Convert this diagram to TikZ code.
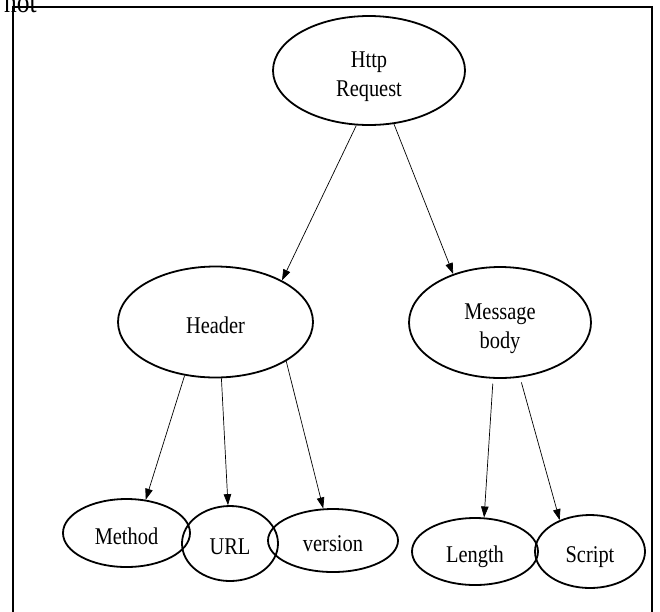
\documentclass[tikz,border=0pt]{standalone}
\usepackage{fontspec}
\setmainfont{Liberation Serif}[FakeStretch=0.85]
\usetikzlibrary{shapes, arrows.meta, positioning}
\newcommand{\lift}{\rule{0pt}{28pt}}

\begin{document}
\begin{tikzpicture}[x=1pt, y=-1pt,
  part/.style={draw, ellipse, line width=1.8pt, inner sep=0pt, align=center, font=\fontsize{24}{29}\selectfont},
  single/.style={part, text height=22pt, text depth=0pt},
  link/.style={-{Triangle[length=11pt, width=7.5pt]}, line width=0.7pt}]
  \useasboundingbox (0,0) rectangle (660,611);
  \node[anchor=base west, inner sep=0pt, font=\fontsize{30}{30}\selectfont] (cut) at (4,12.5) {not};
  \draw[line width=1.8pt] (13,7) rectangle (652,700);

  \node[part, minimum width=192pt, minimum height=109pt] (req) at (369,70.5) {\lift Http\\Request};
  \node[single, minimum width=195pt, minimum height=111pt] (hdr) at (215.5,322) {Header};
  \node[part, minimum width=182pt, minimum height=111pt] (msg) at (500,322.5) {\lift Message\\body};
  \node[single, minimum width=127pt, minimum height=68pt] (meth) at (126.5,533) {Method};
  \node[single, minimum width=96pt, minimum height=75pt] (url) at (230,543.5) {URL};
  \node[single, minimum width=130pt, minimum height=63pt] (ver) at (333,540.5) {version};
  \node[single, minimum width=126pt, minimum height=67pt] (len) at (475,551.5) {Length};
  \node[single, minimum width=110pt, minimum height=73pt] (scr) at (590,551.5) {Script};

  \draw[link] (req.257) -- (hdr.32);
  \draw[link] (req.295) -- (msg.134);
  \draw[link] (hdr.240) -- (meth.60);
  \draw[link] (hdr.276) -- (url.93);
  \draw[link] (hdr.331) -- (ver.107);
  \draw[link, shorten <=5pt] (msg.263) -- (len.75);
  \draw[link, shorten <=5pt] (msg.290) -- (scr.134);
\end{tikzpicture}
\end{document}
